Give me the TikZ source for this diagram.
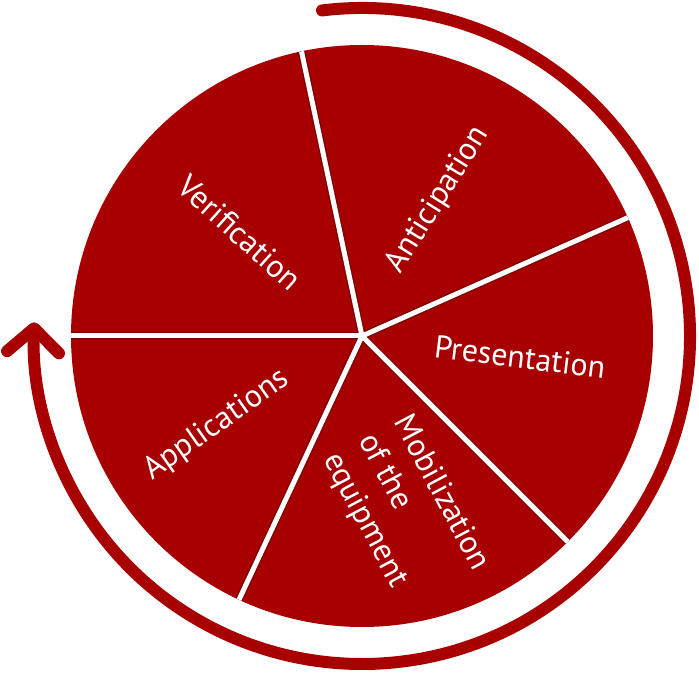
\documentclass[tikz,border=0pt]{standalone}
\usepackage{fontspec}
\setmainfont{PT Sans}
\usetikzlibrary{arrows.meta}
\definecolor{piered}{RGB}{168,0,0}

\begin{document}
\begin{tikzpicture}[
    x=1pt, y=1pt,
    slice/.style={fill=piered},
    divider/.style={draw=white, line width=5pt},
    dividershade/.style={draw=black, line width=8pt, opacity=0.22},
    slicetext/.style={text=white, font=\fontsize{32}{40}\selectfont, align=left, inner sep=0pt},
    cyclearrow/.style={draw=piered, line width=12pt, line cap=round,
                       -{Straight Barb[length=24pt, width=52pt, round]}},
  ]
  \useasboundingbox (-362,-338) rectangle (337,336);

  % --- pie ---
  \coordinate (c) at (0,0);
  \fill[slice] (c) circle[radius=291];

  % --- dividers between the slices ---
  \coordinate (d1) at (24:291);
  \coordinate (d2) at (102:291);
  \coordinate (d3) at (180:291);
  \coordinate (d4) at (245:291);
  \coordinate (d5) at (315:291);

  \draw[dividershade, shift={(2,-3)}] (c) -- (d1);
  \draw[dividershade, shift={(3,-2)}] (c) -- (d2);
  \draw[dividershade, shift={(0,-4)}] (c) -- (d3);
  \draw[dividershade, shift={(3,-1)}] (c) -- (d4);
  \draw[dividershade, shift={(-2,-3)}] (c) -- (d5);

  \draw[divider] (c) -- (d1);
  \draw[divider] (c) -- (d2);
  \draw[divider] (c) -- (d3);
  \draw[divider] (c) -- (d4);
  \draw[divider] (c) -- (d5);

  % --- slice labels ---
  \node[slicetext, rotate=58] (anti) at (76,136) {Anticipation};
  \node[slicetext, rotate=-42] (veri) at (-122,103) {Verification};
  \node[slicetext, rotate=35] (appl) at (-145,-89) {Applications};
  \node[slicetext, rotate=-62, anchor=north west] (mobi) at (52,-75) {Mobilization\\ of the\\ equipment};
  \node[slicetext, rotate=-7] (pres) at (158,-21) {Presentation};

  % --- cycle arrow round the pie ---
  \coordinate (start) at (97:328);
  \draw[cyclearrow] (start) arc[start angle=97, end angle=-182.4, radius=328];
\end{tikzpicture}
\end{document}
